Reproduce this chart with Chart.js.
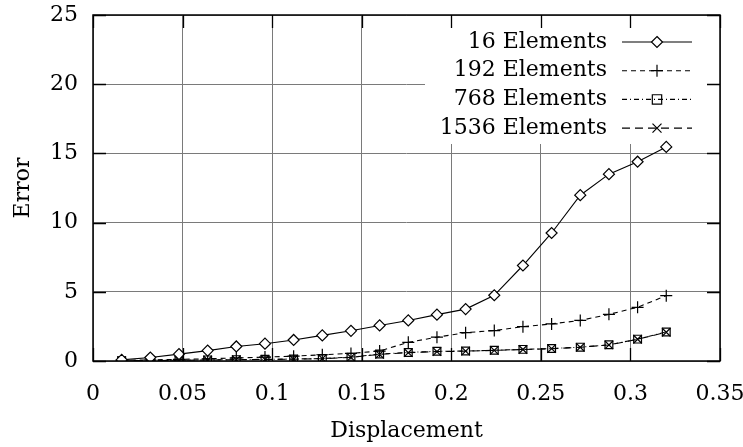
<!DOCTYPE html>
<html>
<head>
<meta charset="utf-8">
<script src="https://cdn.jsdelivr.net/npm/chart.js@4"></script>
<style>
  html, body { margin: 0; padding: 0; background: #fff; }
  #wrap { width: 743px; height: 447px; }
</style>
</head>
<body>
<div id="wrap"><canvas id="errChart"></canvas></div>
<script>
/* ── Data ───────────────────────────────────────────────────── */

const displacement = [0.016, 0.032, 0.048, 0.064, 0.08, 0.096, 0.112, 0.128, 0.144, 0.16,
                      0.176, 0.192, 0.208, 0.224, 0.24, 0.256, 0.272, 0.288, 0.304, 0.32];

const err16   = [0.08, 0.25, 0.5, 0.75, 1.05, 1.25, 1.52, 1.85, 2.18, 2.57,
                 2.93, 3.35, 3.75, 4.75, 6.9, 9.25, 11.98, 13.5, 14.4, 15.47];
const err192  = [0.05, 0.08, 0.12, 0.16, 0.22, 0.28, 0.35, 0.45, 0.55, 0.72,
                 1.35, 1.72, 2.05, 2.2, 2.48, 2.68, 2.93, 3.37, 3.88, 4.72];
const err768  = [0.02, 0.04, 0.06, 0.08, 0.1, 0.12, 0.14, 0.18, 0.28, 0.5,
                 0.62, 0.7, 0.72, 0.78, 0.84, 0.9, 1.0, 1.17, 1.58, 2.1];
const err1536 = [0.02, 0.03, 0.05, 0.07, 0.09, 0.11, 0.13, 0.17, 0.26, 0.48,
                 0.6, 0.68, 0.71, 0.77, 0.83, 0.89, 0.99, 1.16, 1.57, 2.08];

const seriesNames = ["16 Elements", "192 Elements", "768 Elements", "1536 Elements"];
const xTickLabels = ["0", "0.05", "0.1", "0.15", "0.2", "0.25", "0.3", "0.35"];
const yTickLabels = ["0", "5", "10", "15", "20", "25"];

const FONT = "'DejaVu Serif', 'Liberation Serif', serif";
const FSIZE = 22;

function pts(vals) {
  return vals.map((v, i) => ({ x: displacement[i], y: v }));
}

/* ── Plugins: opaque key box, frame + inner ticks, key ──────── */

const keyBox = { left: 425, bottom: 143 };

const keyBackground = {
  id: "keyBackground",
  beforeDatasetsDraw(chart) {
    const { ctx, chartArea: a } = chart;
    ctx.save();
    ctx.fillStyle = "#fff";
    ctx.fillRect(keyBox.left, a.top + 1, a.right - keyBox.left - 1, keyBox.bottom - a.top);
    ctx.restore();
  },
};

const frameTicks = {
  id: "frameTicks",
  afterDraw(chart) {
    const { ctx, chartArea: a, scales } = chart;
    ctx.save();
    ctx.strokeStyle = "#000";
    ctx.lineWidth = 1.3;
    const len = 13;
    ctx.beginPath();
    scales.x.ticks.forEach(t => {
      const x = Math.round(scales.x.getPixelForValue(t.value)) + 0.5;
      ctx.moveTo(x, a.bottom); ctx.lineTo(x, a.bottom - len);
      ctx.moveTo(x, a.top);    ctx.lineTo(x, a.top + len);
    });
    scales.y.ticks.forEach(t => {
      const y = Math.round(scales.y.getPixelForValue(t.value)) + 0.5;
      ctx.moveTo(a.left, y);  ctx.lineTo(a.left + len, y);
      ctx.moveTo(a.right, y); ctx.lineTo(a.right - len, y);
    });
    ctx.stroke();
    ctx.lineWidth = 1.5;
    ctx.strokeRect(a.left, a.top, a.right - a.left, a.bottom - a.top);

    // key: right-aligned text, sample line with marker on the right
    ctx.font = FSIZE + "px " + FONT;
    ctx.fillStyle = "#000";
    ctx.textAlign = "right";
    ctx.textBaseline = "middle";
    chart.data.datasets.forEach((ds, i) => {
      const y = 42 + i * 28.7;
      ctx.fillText(ds.label, 607, y);
      ctx.strokeStyle = "#000";
      ctx.lineWidth = 1.1;
      ctx.setLineDash(ds.borderDash || []);
      ctx.beginPath();
      ctx.moveTo(622, y); ctx.lineTo(692, y);
      ctx.stroke();
      ctx.setLineDash([]);
      drawMarker(ctx, ds.pointStyle, 657, y, ds.pointRadius);
    });
    ctx.restore();
  },
};

function drawMarker(ctx, style, x, y, r) {
  ctx.save();
  ctx.lineWidth = 1.2;
  ctx.strokeStyle = "#000";
  ctx.fillStyle = "#fff";
  ctx.beginPath();
  if (style === "rectRot") {
    ctx.moveTo(x, y - r); ctx.lineTo(x + r, y); ctx.lineTo(x, y + r); ctx.lineTo(x - r, y); ctx.closePath();
    ctx.fill(); ctx.stroke();
  } else if (style === "cross") {
    ctx.moveTo(x - r, y); ctx.lineTo(x + r, y); ctx.moveTo(x, y - r); ctx.lineTo(x, y + r);
    ctx.stroke();
  } else if (style === "rect") {
    const s = r * 0.85;
    ctx.rect(x - s, y - s, 2 * s, 2 * s);
    ctx.stroke();
  } else {
    const s = r * 0.75;
    ctx.moveTo(x - s, y - s); ctx.lineTo(x + s, y + s); ctx.moveTo(x + s, y - s); ctx.lineTo(x - s, y + s);
    ctx.stroke();
  }
  ctx.restore();
}

// drop the label overhang padding so the layout padding alone fixes the plot box
function noOverhang(s) {
  s.paddingTop = 0; s.paddingBottom = 0; s.paddingLeft = 0; s.paddingRight = 0;
}

/* ── Chart ──────────────────────────────────────────────────── */

function series(label, vals, dash, style, radius, fillCol) {
  return {
    label,
    data: pts(vals),
    borderColor: "#000",
    backgroundColor: fillCol,
    borderWidth: 1.1,
    borderDash: dash,
    pointStyle: style,
    pointRadius: radius,
    pointBorderWidth: 1.2,
    pointBorderColor: "#000",
    pointBackgroundColor: fillCol,
    tension: 0,
    fill: false,
  };
}

new Chart(document.getElementById("errChart"), {
  type: "line",
  data: {
    datasets: [
      series(seriesNames[0], err16,   [],           "rectRot",  5.5, "#fff"),
      series(seriesNames[1], err192,  [5, 4],       "cross",    6,   "rgba(0,0,0,0)"),
      series(seriesNames[2], err768,  [5, 3, 1, 3], "rect",     5.5, "rgba(0,0,0,0)"),
      series(seriesNames[3], err1536, [8, 5],       "crossRot", 6,   "rgba(0,0,0,0)"),
    ],
  },
  options: {
    responsive: true,
    maintainAspectRatio: false,
    animation: false,
    events: [],
    layout: { padding: { left: 10, right: 23, top: 15, bottom: 3 } },
    plugins: { legend: { display: false }, tooltip: { enabled: false } },
    scales: {
      x: {
        type: "linear", min: 0, max: 0.35,
        border: { display: false },
        grid: { color: "#7a7a7a", lineWidth: 1, drawTicks: false },
        ticks: {
          stepSize: 0.05, padding: 20, color: "#000", maxRotation: 0,
          font: { family: FONT, size: FSIZE },
          callback: (v, i) => xTickLabels[i],
        },
        title: { display: true, text: "Displacement", color: "#000", padding: 0,
                 font: { family: FONT, size: FSIZE } },
        afterFit: s => { s.height = 83; noOverhang(s); },
      },
      y: {
        min: 0, max: 25,
        border: { display: false },
        grid: { color: "#7a7a7a", lineWidth: 1, drawTicks: false },
        ticks: {
          stepSize: 5, padding: 15, color: "#000",
          font: { family: FONT, size: FSIZE },
          callback: (v, i) => yTickLabels[i],
        },
        title: { display: true, text: "Error", color: "#000", padding: 0,
                 font: { family: FONT, size: FSIZE } },
        afterFit: s => { s.width = 83; noOverhang(s); },
      },
    },
  },
  plugins: [keyBackground, frameTicks],
});
</script>
</body>
</html>
